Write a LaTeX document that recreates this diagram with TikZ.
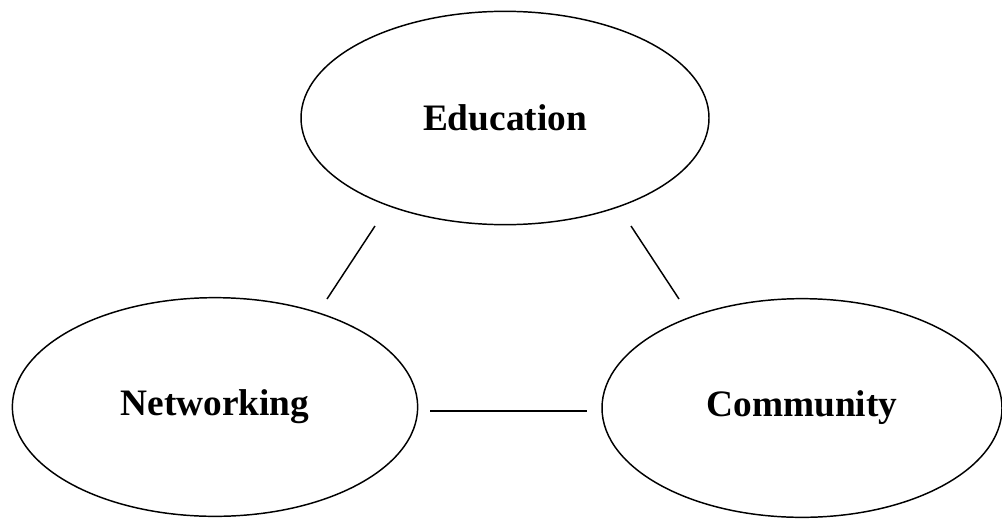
\documentclass[tikz,border=0pt]{standalone}
\usepackage{fontspec}
\setmainfont{Liberation Serif}
\usepackage{tikz}
\usetikzlibrary{shapes.geometric}
\tikzset{
  bubble/.style={
    draw=black, line width=1.1pt,
    ellipse, inner sep=0pt,
    font=\fontsize{28}{32}\selectfont\bfseries
  },
  link/.style={draw=black, line width=1.1pt}
}

\begin{document}
\begin{tikzpicture}[x=0.75pt, y=-0.75pt, line cap=butt, line join=round]
  \useasboundingbox (0,0) rectangle (1002,518);

  \node[bubble, minimum width=306pt, minimum height=160pt] (edu) at (505,118) {Education};
  \node[bubble, minimum width=304pt, minimum height=164pt] (net) at (215,407) {Networking};
  \node[bubble, minimum width=300pt, minimum height=164pt] (com) at (802,408) {Community};

  % free ends of the links (they stop short of the ellipses)
  \coordinate (eduL) at (375,226);
  \coordinate (netT) at (327,299);
  \coordinate (eduR) at (631,226);
  \coordinate (comT) at (679,299);
  \coordinate (netR) at (430,411);
  \coordinate (comL) at (587,411);

  \draw[link] (eduL) -- (netT);
  \draw[link] (eduR) -- (comT);
  \draw[link] (netR) -- (comL);
\end{tikzpicture}
\end{document}
